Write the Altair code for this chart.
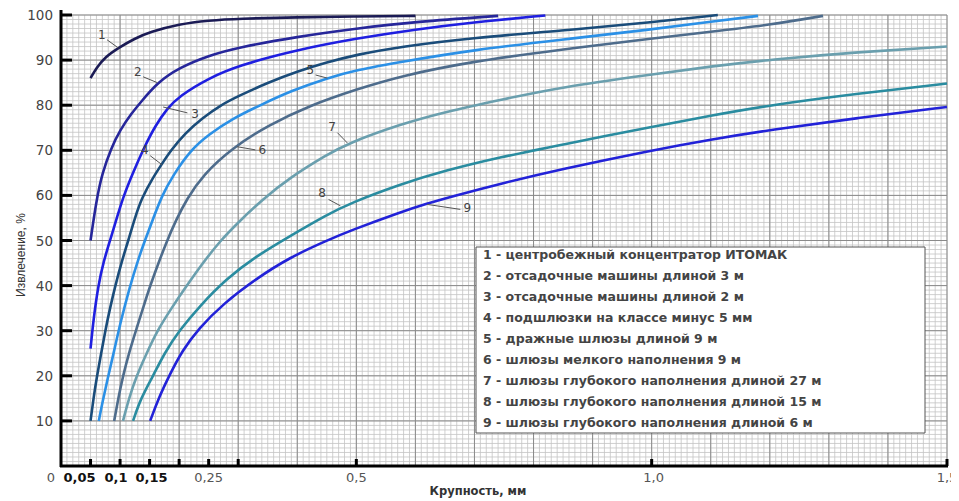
import altair as alt
import numpy as np
import pandas as pd

W, H = 886, 451

# ---- curve data (x = Крупность, мм ; y = Извлечение, %) ----
c1_x = [0.05, 0.06, 0.075, 0.097, 0.125, 0.15, 0.2, 0.25, 0.3, 0.4, 0.5, 0.6]
c1_y = [86, 88.3, 90.7, 92.7, 94.8, 96.2, 98, 98.8, 99.2, 99.5, 99.7, 99.8]

c2_x = [0.05, 0.06, 0.07, 0.085, 0.1, 0.12, 0.134, 0.163, 0.2, 0.25, 0.3, 0.4, 0.5, 0.6, 0.74]
c2_y = [50, 59, 65, 70.5, 74.5, 78.3, 80.5, 85, 88.3, 91, 92.8, 95.2, 97, 98.5, 99.8]

c3_x = [0.05, 0.055, 0.063, 0.072, 0.083, 0.095, 0.105, 0.12, 0.142, 0.16, 0.18, 0.2, 0.25, 0.3, 0.4, 0.5, 0.6, 0.7, 0.82]
c3_y = [26, 32.5, 40, 45.3, 50, 55.2, 59.5, 64.5, 71, 75.5, 79.3, 82, 86, 88.8, 92.3, 94.8, 96.8, 98.4, 99.9]

c4_x = [0.05, 0.055, 0.061, 0.068, 0.075, 0.083, 0.092, 0.102, 0.114, 0.125, 0.137, 0.155, 0.171, 0.185, 0.21, 0.24, 0.27, 0.3, 0.35, 0.4, 0.45, 0.5, 0.575, 0.7, 0.846, 1.0, 1.112]
c4_y = [10, 15, 20, 25, 30, 35, 40, 45, 50, 55, 59.5, 63.8, 67, 69.8, 73.8, 77.2, 80, 82, 85, 87.5, 89.5, 91.2, 93, 95, 96.5, 98.4, 100]

c5_x = [0.064, 0.07, 0.08, 0.09, 0.1, 0.117, 0.13, 0.142, 0.155, 0.171, 0.19, 0.219, 0.25, 0.29, 0.337, 0.39, 0.45, 0.5, 0.575, 0.7, 0.846, 1.0, 1.1, 1.18]
c5_y = [10, 14, 20, 25.5, 31.5, 40, 45.5, 50, 54.5, 60, 64.5, 70, 73.5, 77, 80, 83.2, 86, 87.8, 89.6, 92.3, 94.5, 96.8, 98.5, 99.8]

c6_x = [0.09, 0.097, 0.105, 0.116, 0.128, 0.14, 0.151, 0.165, 0.179, 0.195, 0.213, 0.24, 0.29, 0.35, 0.422, 0.5, 0.575, 0.7, 0.846, 1.0, 1.1, 1.2, 1.29]
c6_y = [10, 15, 20, 25.5, 30.5, 35.5, 40, 45, 49.8, 54.6, 59.2, 64.5, 70.5, 75.5, 80, 83.5, 86.5, 89.8, 92.3, 94.8, 96.3, 97.8, 99.8]

c7_x = [0.105, 0.115, 0.128, 0.145, 0.163, 0.187, 0.213, 0.24, 0.27, 0.3, 0.34, 0.388, 0.45, 0.485, 0.575, 0.65, 0.744, 0.846, 1.0, 1.1, 1.2, 1.35, 1.5]
c7_y = [10, 15, 20, 25, 30, 35, 40, 45, 50, 54, 59, 64, 69, 71.5, 75.8, 78.5, 81.2, 84, 86.8, 88.6, 90.1, 91.8, 93]

c8_x = [0.122, 0.135, 0.156, 0.175, 0.2, 0.235, 0.28, 0.33, 0.388, 0.45, 0.49, 0.575, 0.65, 0.744, 0.846, 1.0, 1.1, 1.2, 1.35, 1.5]
c8_y = [10, 15, 20, 25, 30, 35.5, 41.5, 46.5, 51, 55.7, 58.3, 62.5, 65.5, 68.5, 71.2, 75.2, 77.7, 80, 82.6, 84.8]

c9_x = [0.151, 0.165, 0.185, 0.205, 0.233, 0.275, 0.33, 0.388, 0.45, 0.49, 0.575, 0.62, 0.66, 0.744, 0.846, 1.0, 1.1, 1.2, 1.35, 1.5]
c9_y = [10, 15, 20.5, 25.5, 30.5, 36, 41.5, 46.3, 50, 52.2, 56.3, 58.2, 59.7, 62.6, 65.8, 70, 72.4, 74.5, 77.2, 79.6]

series_ids = ["1", "2", "3", "4", "5", "6", "7", "8", "9"]
series_colors = ["#1b1b55", "#26269a", "#1f1fe0", "#1a4c7a", "#2b90e6",
                 "#4e6c8c", "#6a9fae", "#2a8ca0", "#2222d8"]

legend_texts = [
    "1 - центробежный концентратор ИТОМАК",
    "2 - отсадочные машины длиной 3 м",
    "3 - отсадочные машины длиной 2 м",
    "4 - подшлюзки на классе минус 5 мм",
    "5 - дражные шлюзы длиной 9 м",
    "6 - шлюзы мелкого наполнения 9 м",
    "7 - шлюзы глубокого наполнения длиной 27 м",
    "8 - шлюзы глубокого наполнения длиной 15 м",
    "9 - шлюзы глубокого наполнения длиной 6 м",
]

# curve number labels and leader lines (data coordinates)
lab_x = [0.069, 0.13, 0.227, 0.142, 0.422, 0.341, 0.459, 0.442, 0.688]
lab_y = [95.6, 87.4, 78.0, 70.1, 87.8, 70.1, 75.2, 60.6, 57.3]
lead_x1 = [0.078, 0.139, 0.214, 0.151, 0.431, 0.329, 0.468, 0.453, 0.676]
lead_y1 = [94.5, 86.3, 78.3, 68.8, 86.7, 70.1, 73.9, 59.1, 56.9]
lead_x2 = [0.097, 0.163, 0.173, 0.171, 0.451, 0.298, 0.485, 0.473, 0.62]
lead_y2 = [92.7, 85.0, 79.6, 66.8, 86.0, 70.8, 71.6, 57.7, 58.0]

x_tick_vals = [0.05, 0.1, 0.15, 0.2, 0.25, 0.3, 0.5, 1.0, 1.5]
y_tick_vals = [10, 20, 30, 40, 50, 60, 70, 80, 90, 100]

xs = [c1_x, c2_x, c3_x, c4_x, c5_x, c6_x, c7_x, c8_x, c9_x]
ys = [c1_y, c2_y, c3_y, c4_y, c5_y, c6_y, c7_y, c8_y, c9_y]
rows = []
for sid, cx, cy in zip(series_ids, xs, ys):
    for i, (a, b) in enumerate(zip(cx, cy)):
        rows.append({"s": sid, "x": a, "y": b, "o": i})
curves = pd.DataFrame(rows)

xsc = alt.Scale(domain=[0, 1.5], nice=False, zero=False)
ysc = alt.Scale(domain=[0, 100], nice=False, zero=False)
FONT = "DejaVu Sans"

def X(f="x"):
    return alt.X(f"{f}:Q", scale=xsc, axis=None)

def Y(f="y"):
    return alt.Y(f"{f}:Q", scale=ysc, axis=None)

# grid
minor_x = pd.DataFrame({"x": np.round(np.arange(0, 1.5001, 0.01), 3)})
minor_y = pd.DataFrame({"y": np.arange(0, 101, 1)})
major_x = pd.DataFrame({"x": np.round(np.arange(0, 1.5001, 0.1), 3)})
major_y = pd.DataFrame({"y": np.arange(0, 101, 10)})

g1 = alt.Chart(minor_x).mark_rule(color="#c4c4c4", strokeWidth=0.8).encode(x=X())
g2 = alt.Chart(minor_y).mark_rule(color="#c4c4c4", strokeWidth=0.8).encode(y=Y())
g3 = alt.Chart(major_x).mark_rule(color="#8a8a8a", strokeWidth=1).encode(x=X())
g4 = alt.Chart(major_y).mark_rule(color="#8a8a8a", strokeWidth=1).encode(y=Y())

lines = alt.Chart(curves).mark_line(strokeWidth=2.6, interpolate="basis").encode(
    x=X(), y=Y(),
    color=alt.Color("s:N", scale=alt.Scale(domain=series_ids, range=series_colors), legend=None),
    order="o:Q",
)

# legend box
box = alt.Chart(pd.DataFrame({"k": [0]})).mark_rect(
    fill="white", stroke="#555555", strokeWidth=1
).encode(x=alt.value(415), x2=alt.value(864), y=alt.value(232), y2=alt.value(418))

leg_df = pd.DataFrame({"t": legend_texts, "i": list(range(len(legend_texts)))})
leg_text = alt.Chart(leg_df).transform_calculate(
    py="240 + datum.i * 21"
).mark_text(align="left", baseline="middle", font=FONT, fontSize=12.5,
            fontWeight="bold", color="#444444").encode(
    x=alt.value(422), y=alt.Y("py:Q", scale=None), text="t:N"
)

# leader lines and curve numbers
lead_df = pd.DataFrame({"x": lead_x1, "y": lead_y1, "x2": lead_x2, "y2": lead_y2})
leaders = alt.Chart(lead_df).mark_rule(color="#555555", strokeWidth=1).encode(
    x=X(), y=Y(), x2="x2:Q", y2="y2:Q"
)
num_df = pd.DataFrame({"x": lab_x, "y": lab_y, "t": series_ids})
nums = alt.Chart(num_df).mark_text(font=FONT, fontSize=12, color="#444444",
                                   baseline="middle", align="center").encode(
    x=X(), y=Y(), text="t:N"
)

# axes
yaxis = alt.Chart(pd.DataFrame({"k": [0]})).mark_rule(color="black", strokeWidth=3).encode(
    x=alt.value(0), y=alt.value(-5), y2=alt.value(H + 1)
)
xaxis = alt.Chart(pd.DataFrame({"k": [0]})).mark_rule(color="black", strokeWidth=3).encode(
    x=alt.value(-1), x2=alt.value(W + 1), y=alt.value(H)
)
yt = alt.Chart(pd.DataFrame({"y": y_tick_vals})).mark_rule(color="black", strokeWidth=3).encode(
    y=Y(), x=alt.value(0), x2=alt.value(11)
)
xt = alt.Chart(pd.DataFrame({"x": x_tick_vals})).mark_rule(color="black", strokeWidth=3).encode(
    x=X(), y=alt.value(H), y2=alt.value(H - 7)
)
ylab = alt.Chart(pd.DataFrame({"y": y_tick_vals, "t": [str(v) for v in y_tick_vals]})).mark_text(
    align="right", baseline="middle", font=FONT, fontSize=13.5, color="#444444", dy=1
).encode(y=Y(), x=alt.value(-8), text="t:N")

def xlabel(val, txt, bold, dx):
    return alt.Chart(pd.DataFrame({"x": [val], "t": [txt]})).mark_text(
        align="center", baseline="middle", font=FONT, fontSize=13,
        fontWeight="bold" if bold else "normal",
        color="#111111" if bold else "#555555", dx=dx
    ).encode(x=X(), y=alt.value(H + 12), text="t:N")

xlabels = [
    xlabel(0, "0", False, -10),
    xlabel(0.05, "0,05", True, -11),
    xlabel(0.1, "0,1", True, -4),
    xlabel(0.15, "0,15", True, 2),
    xlabel(0.25, "0,25", False, 0),
    xlabel(0.5, "0,5", False, 0),
    xlabel(1.0, "1,0", False, 2),
    xlabel(1.5, "1,5", False, 0),
]

xtitle = alt.Chart(pd.DataFrame({"t": ["Крупность, мм"]})).mark_text(
    align="center", baseline="middle", font=FONT, fontSize=11.5, fontWeight="bold", color="#333333"
).encode(x=alt.value(417), y=alt.value(H + 26), text="t:N")
ytitle = alt.Chart(pd.DataFrame({"t": ["Извлечение, %"]})).mark_text(
    align="center", baseline="middle", font="Liberation Sans", fontSize=12, angle=270, color="#333333"
).encode(x=alt.value(-40), y=alt.value(240), text="t:N")

chart = alt.layer(
    g1, g2, g3, g4, lines, box, leg_text, leaders, nums,
    yaxis, xaxis, yt, xt, ylab, *xlabels, xtitle, ytitle
).properties(
    width=W, height=H,
    autosize=alt.AutoSizeParams(type="none"),
    padding={"left": 53, "top": 7, "right": 4, "bottom": 36},
    background="white",
).configure_view(stroke=None)

chart.save("out.html", embed_options={"renderer": "svg", "actions": False})
